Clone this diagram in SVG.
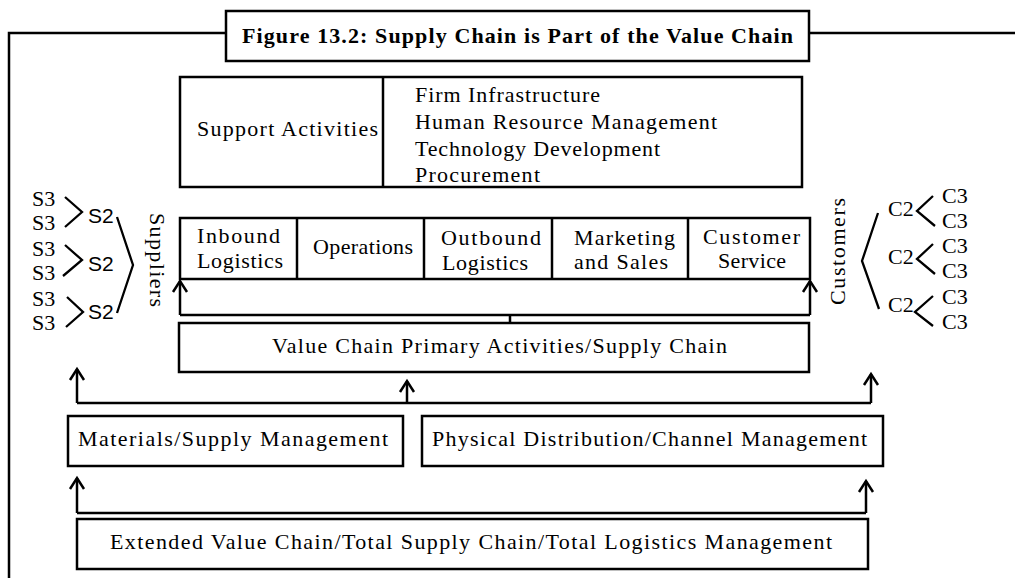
<svg xmlns="http://www.w3.org/2000/svg" width="1015" height="578" viewBox="0 0 1015 578">
<style>
.box{fill:none;stroke:#000;stroke-width:2.5}
.ln{fill:none;stroke:#000;stroke-width:2.5}
.br{fill:none;stroke:#000;stroke-width:2.3;stroke-linejoin:miter}
.t{font-family:"Liberation Serif",serif;font-size:22px;fill:#000}
.s{font-family:"Liberation Sans",Arial,sans-serif;font-size:21px;fill:#000}
.ttl{font-family:"Liberation Serif",serif;font-size:22px;font-weight:bold;fill:#000}
.m{text-anchor:middle}
</style>
<defs>
<marker id="arr" markerUnits="userSpaceOnUse" viewBox="-14 -10 16 20" refX="0" refY="0" markerWidth="16" markerHeight="20" orient="auto" overflow="visible">
<path d="M-11,-7 L0,0 L-11,7" fill="none" stroke="#000" stroke-width="2.5"/>
</marker>
</defs>
<rect width="1015" height="578" fill="#fff"/>

<g id="frame">
<path class="ln" d="M9,578 V33 H226"/>
<path class="ln" d="M809,33 H1015"/>
</g>

<g id="title">
<rect class="box" x="226" y="11" width="583" height="50"/>
<text class="ttl" x="242" y="43" textLength="551">Figure 13.2: Supply Chain is Part of the Value Chain</text>
</g>

<g id="support">
<rect class="box" x="180" y="77" width="622" height="110"/>
<line class="ln" x1="383" y1="77" x2="383" y2="187"/>
<text class="t" x="197" y="136" textLength="181">Support Activities</text>
<text class="t" x="415" y="102" textLength="185">Firm Infrastructure</text>
<text class="t" x="415" y="129" textLength="302">Human Resource Management</text>
<text class="t" x="415" y="156" textLength="245">Technology Development</text>
<text class="t" x="415" y="182" textLength="125">Procurement</text>
</g>

<g id="primary">
<rect class="box" x="180" y="218" width="630" height="61"/>
<line class="ln" x1="297" y1="218" x2="297" y2="279"/>
<line class="ln" x1="424" y1="218" x2="424" y2="279"/>
<line class="ln" x1="552" y1="218" x2="552" y2="279"/>
<line class="ln" x1="688" y1="218" x2="688" y2="279"/>
<text class="t m" x="238.5" y="243" textLength="83">Inbound</text>
<text class="t m" x="240" y="268" textLength="86">Logistics</text>
<text class="t m" x="363" y="254" textLength="100">Operations</text>
<text class="t m" x="491" y="245" textLength="100">Outbound</text>
<text class="t m" x="485" y="270" textLength="86">Logistics</text>
<text class="t m" x="624.5" y="245" textLength="101">Marketing</text>
<text class="t m" x="621" y="269" textLength="94">and Sales</text>
<text class="t m" x="751.5" y="244" textLength="97">Customer</text>
<text class="t m" x="752" y="268" textLength="68">Service</text>
</g>

<g id="valuechain">
<rect class="box" x="179" y="323" width="630" height="49"/>
<text class="t m" x="499.5" y="353" textLength="455">Value Chain Primary Activities/Supply Chain</text>
</g>

<g id="materials">
<rect class="box" x="68" y="416" width="335" height="50"/>
<text class="t" x="78" y="446" textLength="310">Materials/Supply Management</text>
</g>

<g id="physical">
<rect class="box" x="422" y="416" width="461" height="50"/>
<text class="t" x="432" y="446" textLength="435">Physical Distribution/Channel Management</text>
</g>

<g id="extended">
<rect class="box" x="77" y="519" width="791" height="50"/>
<text class="t" x="110" y="549" textLength="722">Extended Value Chain/Total Supply Chain/Total Logistics Management</text>
</g>

<g id="suppliers">
<text class="t" x="32" y="206">S3</text>
<text class="t" x="32" y="230">S3</text>
<text class="t" x="32" y="256">S3</text>
<text class="t" x="32" y="280">S3</text>
<text class="t" x="32" y="306">S3</text>
<text class="t" x="32" y="330">S3</text>
<path class="br" d="M65,197 L82,212 L65,227"/>
<path class="br" d="M65,245 L82,260 L63,276"/>
<path class="br" d="M67,297 L83,312 L66,327"/>
<text class="s" x="88" y="223">S2</text>
<text class="s" x="88" y="271">S2</text>
<text class="s" x="88" y="319">S2</text>
<path class="br" d="M117,217 L133,265 L117,313"/>
<text class="t" transform="translate(150,213) rotate(90)" x="0" y="0" textLength="94">Suppliers</text>
</g>

<g id="customers">
<text class="t" transform="translate(845,305) rotate(-90)" x="0" y="0" textLength="107">Customers</text>
<path class="br" d="M878,213 L862,261 L879,309"/>
<text class="t" x="888" y="216">C2</text>
<text class="t" x="888" y="264">C2</text>
<text class="t" x="888" y="312">C2</text>
<path class="br" d="M933,196 L917,211 L935,226"/>
<path class="br" d="M933,244 L917,259 L935,274"/>
<path class="br" d="M933,296 L915,312 L933,326"/>
<text class="t" x="942" y="203">C3</text>
<text class="t" x="942" y="228">C3</text>
<text class="t" x="942" y="253">C3</text>
<text class="t" x="942" y="278">C3</text>
<text class="t" x="942" y="304">C3</text>
<text class="t" x="942" y="329">C3</text>
</g>

<g id="connectors">
<path class="ln" d="M510,323 V315"/>
<path class="ln" d="M180,315 H810"/>
<path class="ln" d="M180,315 V281" marker-end="url(#arr)"/>
<path class="ln" d="M810,315 V281" marker-end="url(#arr)"/>
<path class="ln" d="M77,403 H871"/>
<path class="ln" d="M77,403 V369" marker-end="url(#arr)"/>
<path class="ln" d="M407,403 V381" marker-end="url(#arr)"/>
<path class="ln" d="M871,403 V374" marker-end="url(#arr)"/>
<path class="ln" d="M77,513 H866"/>
<path class="ln" d="M77,513 V478" marker-end="url(#arr)"/>
<path class="ln" d="M866,513 V481" marker-end="url(#arr)"/>
</g>
</svg>
